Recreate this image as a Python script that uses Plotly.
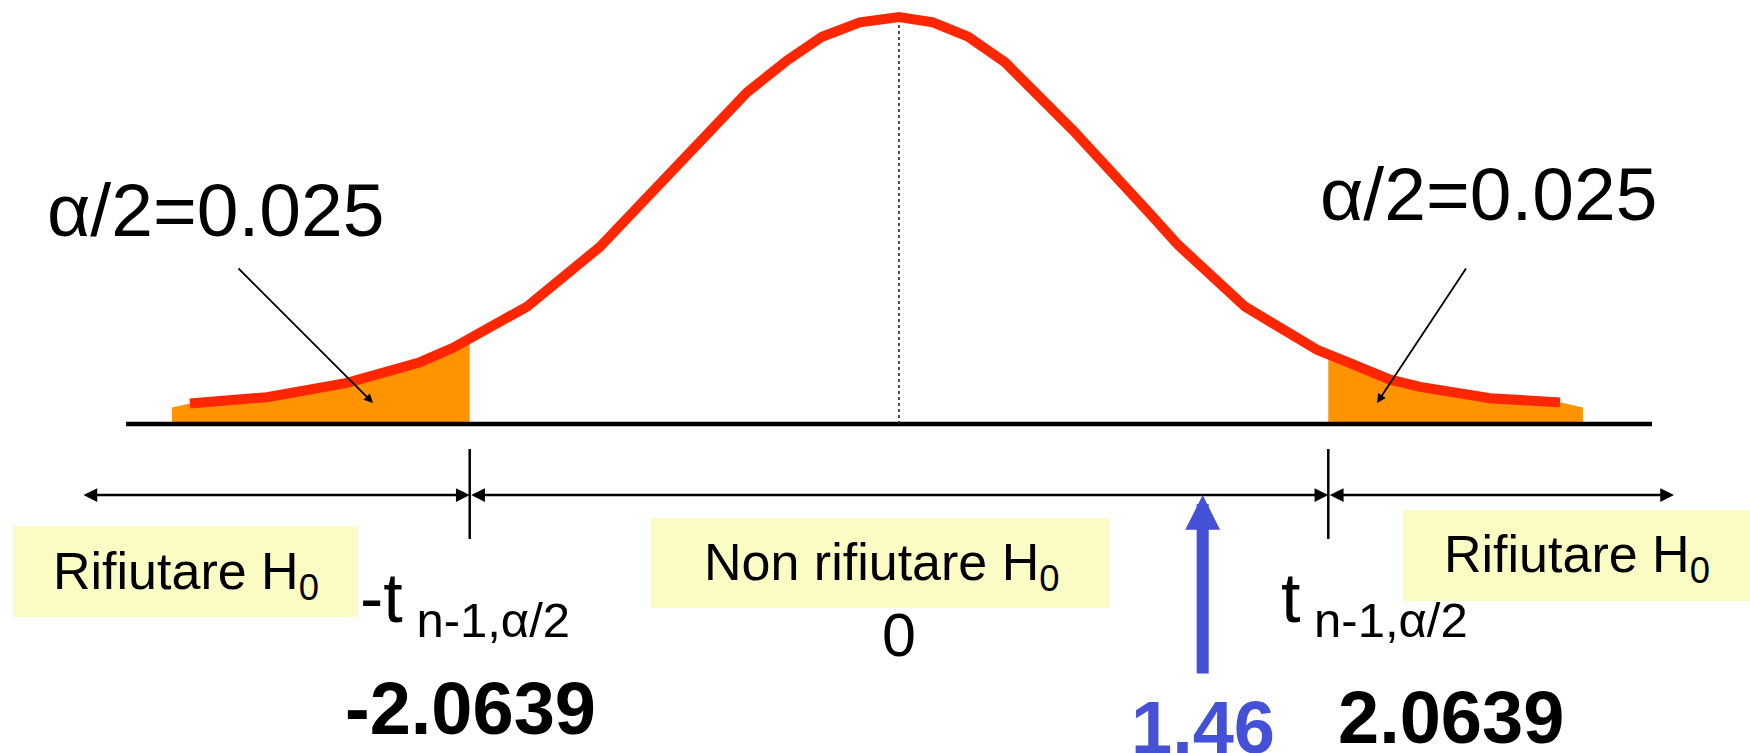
import plotly.graph_objects as go

# ---------------------------------------------------------------
# Student t density (n-1 = 24 df) with two-sided rejection regions
# ---------------------------------------------------------------

# curve vertices: t value and density height
curve_t = [-3.409, -3.038, -2.654, -2.495, -2.303, -2.144, -1.788, -1.438,
           -1.197, -0.909, -0.731, -0.538, -0.370, -0.188, 0.0, 0.163,
           0.332, 0.510, 0.663, 0.837, 1.207, 1.341, 1.663, 2.010,
           2.168, 2.361, 2.505, 2.841, 3.178]
curve_density = [0.020, 0.026, 0.040, 0.048, 0.060, 0.074, 0.114, 0.172,
                 0.223, 0.285, 0.322, 0.353, 0.376, 0.390, 0.395, 0.390,
                 0.376, 0.351, 0.321, 0.285, 0.204, 0.174, 0.114, 0.072,
                 0.059, 0.043, 0.036, 0.025, 0.021]

# shaded tails (alpha/2 each)
left_tail_t = [-3.495, -3.409, -3.038, -2.654, -2.495, -2.303, -2.144, -2.0639]
left_tail_density = [0.016, 0.020, 0.026, 0.040, 0.048, 0.060, 0.074, 0.083]
right_tail_t = [2.0639, 2.168, 2.361, 2.505, 2.841, 3.178, 3.288]
right_tail_density = [0.0675, 0.059, 0.043, 0.036, 0.025, 0.021, 0.016]

t_critical = 2.0639
t_statistic = 1.46
alpha_half = 0.025

# ---------------------------------------------------------------
# canvas geometry
# ---------------------------------------------------------------
W, H = 1750, 753
ORIGIN_PX = 899        # pixel column of t = 0
PX_PER_T = 208         # pixels per unit of t
BASE_PX = 424          # pixel row of density = 0
PX_PER_DENS = 1030     # pixels per unit of density


def t_at(px):
    return (px - ORIGIN_PX) / PX_PER_T


def d_at(py):
    return (BASE_PX - py) / PX_PER_DENS


def fx(px):
    return px / W


def fy(py):
    return 1 - py / H


FONT = "Liberation Sans, Arial, Helvetica, sans-serif"
RED = "#FF2600"
ORANGE = "#FF9300"
BLUE = "#4450D6"
PALE = "#FBFBC4"

fig = go.Figure()

# orange tails
for tx, ty in ((left_tail_t, left_tail_density), (right_tail_t, right_tail_density)):
    fig.add_trace(go.Scatter(x=tx, y=ty, mode="lines", fill="tozeroy",
                             fillcolor=ORANGE, line=dict(width=0, color=ORANGE),
                             hoverinfo="skip", showlegend=False))

# horizontal axis line
fig.add_trace(go.Scatter(x=[t_at(126), t_at(1652)], y=[0, 0], mode="lines",
                         line=dict(color="black", width=4.5),
                         hoverinfo="skip", showlegend=False))

# dotted centre line at t = 0
fig.add_trace(go.Scatter(x=[0, 0], y=[0, max(curve_density)], mode="lines",
                         line=dict(color="#222222", width=1.6, dash="dot"),
                         hoverinfo="skip", showlegend=False))

# density curve
fig.add_trace(go.Scatter(x=curve_t, y=curve_density, mode="lines",
                         line=dict(color=RED, width=10),
                         hoverinfo="skip", showlegend=False))

shapes = []
# critical value ticks
for v in (-t_critical, t_critical):
    shapes.append(dict(type="line", xref="x", yref="y", x0=v, x1=v,
                       y0=d_at(449), y1=d_at(539),
                       line=dict(color="black", width=2.5)))

# pale label boxes
for x0, x1, y0, y1 in ((13, 358, 526, 617), (651, 1109, 518, 608), (1403, 1750, 510, 601)):
    shapes.append(dict(type="rect", xref="paper", yref="paper",
                       x0=fx(x0), x1=fx(x1), y0=fy(y1), y1=fy(y0),
                       fillcolor=PALE, line=dict(width=0), layer="above"))

annotations = []

# region arrows below the axis
row_y = d_at(495)
for a, b in ((t_at(82), -t_critical), (-t_critical, t_critical), (t_critical, t_at(1674))):
    annotations.append(dict(x=b, y=row_y, ax=a, ay=row_y, xref="x", yref="y",
                            axref="x", ayref="y", text="", showarrow=True,
                            arrowside="end+start", arrowhead=2, startarrowhead=2,
                            arrowsize=1.1, startarrowsize=1.1, arrowwidth=2.5,
                            arrowcolor="black", font=dict(size=10)))

# test statistic arrow
annotations.append(dict(x=t_statistic, y=d_at(495), ax=t_statistic, ay=d_at(675),
                        xref="x", yref="y", axref="x", ayref="y", text="",
                        showarrow=True, arrowhead=2, arrowsize=0.58,
                        arrowwidth=12, arrowcolor=BLUE, font=dict(size=10)))

# pointers to the tail areas
for tip_x, dx in ((373, -136), (1377, 90)):
    annotations.append(dict(x=fx(tip_x), y=fy(403), xref="paper", yref="paper",
                            ax=dx, ay=-136, text="", showarrow=True,
                            arrowhead=2, arrowsize=1.0, arrowwidth=1.8,
                            arrowcolor="black", font=dict(size=10)))


def label(text, x, y, size, color="black", xanchor="center", xref="paper"):
    annotations.append(dict(text=text, x=x, y=y, xref=xref, yref="paper",
                            xanchor=xanchor, yanchor="middle", showarrow=False,
                            font=dict(family=FONT, size=size, color=color)))


alpha_text = f"α/2={alpha_half}"
label(alpha_text, fx(215), fy(210), 75)
label(alpha_text, fx(1488), fy(194), 75)

label("Rifiutare H<sub>0</sub>", fx(186), fy(575), 52)
label("Non rifiutare H<sub>0</sub>", fx(881), fy(566), 52)
label("Rifiutare H<sub>0</sub>", fx(1577), fy(558), 52)

label("-t<sub> n-1,α/2</sub>", fx(358), fy(603), 70, xanchor="left")
label("t<sub> n-1,α/2</sub>", fx(1279), fy(603), 70, xanchor="left")
label("0", 0, fy(635), 61, xref="x")

label(f"<b>{-t_critical}</b>", fx(470), fy(708), 74)
label(f"<b>{t_critical}</b>", fx(1451), fy(717), 74)
label(f"<b>{t_statistic}</b>", t_statistic, fy(727), 74, color=BLUE, xref="x")

fig.update_layout(
    width=W, height=H,
    margin=dict(l=0, r=0, t=0, b=0, pad=0),
    paper_bgcolor="white", plot_bgcolor="white",
    xaxis=dict(range=[t_at(0), t_at(W)], visible=False, fixedrange=True),
    yaxis=dict(range=[d_at(H), d_at(0)], visible=False, fixedrange=True),
    shapes=shapes, annotations=annotations, showlegend=False,
)

fig.write_html("out.html", config={"displayModeBar": False})
